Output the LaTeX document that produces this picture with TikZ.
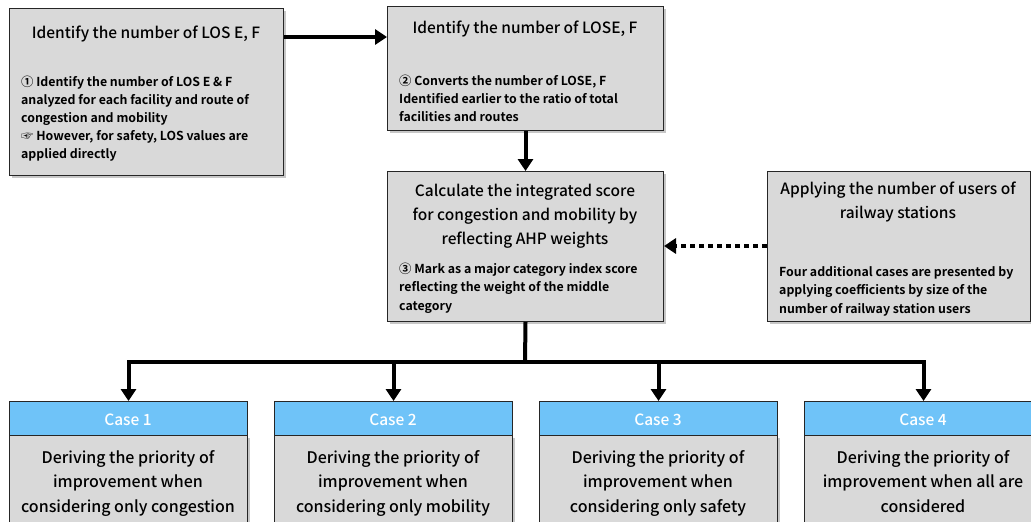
\documentclass[tikz,border=0pt]{standalone}
\usepackage{fontspec}
\setmainfont{Noto Sans CJK KR}[UprightFont=* Medium, BoldFont=* Bold]
\usetikzlibrary{arrows.meta,shadows}
\definecolor{boxgray}{HTML}{D9D9D9}
\definecolor{caseblue}{HTML}{6FC3F8}
\newcommand{\mlt}[4]{\fontsize{#2}{#3}\selectfont\begin{tabular}[t]{@{}#1@{}}#4\end{tabular}}
\begin{document}
\begin{tikzpicture}[x=1pt,y=-1pt,
  box/.style={draw=black!85, line width=1pt, fill=boxgray, anchor=north west, inner sep=0pt,
    drop shadow={shadow xshift=2pt,shadow yshift=-2pt,fill=black,opacity=0.22}},
  casehead/.style={draw=black!85, line width=1pt, fill=caseblue, anchor=north west, inner sep=0pt,
    minimum width=238pt, minimum height=34pt},
  casebody/.style={box, minimum width=238pt, minimum height=100pt},
  ttl/.style={anchor=base, inner sep=0pt},
  bodytxt/.style={anchor=base west, inner sep=0pt},
  arr/.style={line width=4pt, -{Triangle[length=12pt,width=15pt]}},
  dotarr/.style={line width=4.5pt, dash pattern=on 5pt off 4pt, -{Triangle[length=12pt,width=15pt]}},
  trunk/.style={line width=4pt}
]
\useasboundingbox (0,0) rectangle (1031,522);
\clip (0,0) rectangle (1031,522);

% top boxes
\node[box, minimum width=274pt, minimum height=167pt] (b1) at (9,8) {};
\node[box, minimum width=276pt, minimum height=124pt] (b2) at (387,6) {};
\node[box, minimum width=276pt, minimum height=150pt] (b3) at (387,171) {};
\node[box, minimum width=263pt, minimum height=150pt] (b4) at (767,171) {};

% case boxes
\node[casebody] (c1) at (9,435) {};
\node[casebody] (c2) at (274,435) {};
\node[casebody] (c3) at (539,435) {};
\node[casebody] (c4) at (804,435) {};
\node[casehead] (c1h) at (9,401) {};
\node[casehead] (c2h) at (274,401) {};
\node[casehead] (c3h) at (539,401) {};
\node[casehead] (c4h) at (804,401) {};

% texts
\node[ttl, font=\fontsize{15.5}{18}\selectfont] (t1) at (146,38) {Identify the number of LOS E, F};
\node[bodytxt] (d1) at (21,86) {\bfseries\mlt{l}{12.35}{18.2}{%
① Identify the number of LOS E \& F\\
analyzed for each facility and route of\\
congestion and mobility\\
☞ However, for safety, LOS values are\\
applied directly}};

\node[ttl, font=\fontsize{15.5}{18}\selectfont] (t2) at (525,33) {Identify the number of LOSE, F};
\node[bodytxt] (d2) at (399,85) {\bfseries\mlt{l}{12.35}{18.2}{%
② Converts the number of LOSE, F\\
Identified earlier to the ratio of total\\
facilities and routes}};

\node[ttl] (t3) at (525,196) {\mlt{c}{15.5}{24}{%
Calculate the integrated score\\
for congestion and mobility by\\
reflecting AHP weights}};
\node[bodytxt] (d3) at (399,273) {\bfseries\mlt{l}{12.35}{18.6}{%
③ Mark as a major category index score\\
reflecting the weight of the middle\\
category}};

\node[ttl] (t4) at (898,194) {\mlt{c}{15.5}{24}{%
Applying the number of users of\\
railway stations}};
\node[bodytxt] (d4) at (779,276) {\bfseries\mlt{l}{12.35}{18.6}{%
Four additional cases are presented by\\
applying coefficients by size of the\\
number of railway station users}};

\foreach \c/\x in {1/128,2/393,3/658,4/923}{
  \node[ttl, text=white, font=\fontsize{15.5}{18}\selectfont] (h\c) at (\x,425) {Case \c};
}
\node[ttl] (e1) at (128,463) {\mlt{c}{16}{24.5}{Deriving the priority of\\improvement when\\considering only congestion}};
\node[ttl] (e2) at (393,463) {\mlt{c}{16}{24.5}{Deriving the priority of\\improvement when\\considering only mobility}};
\node[ttl] (e3) at (658,463) {\mlt{c}{16}{24.5}{Deriving the priority of\\improvement when\\considering only safety}};
\node[ttl] (e4) at (923,463) {\mlt{c}{16}{24.5}{Deriving the priority of\\improvement when all are\\considered}};

% connectors
\draw[arr] (b1.east |- 0,37) -- (b2.west |- 0,37);
\draw[arr] (b2.south) -- (b3.north);
\draw[dotarr] (b4.west |- 0,246) -- (b3.east |- 0,246);
\coordinate (j) at (525,362);
\draw[trunk] (b3.south) -- (j);
\draw[arr] (j) -| (c1h.north);
\draw[arr] (j) -| (c2h.north);
\draw[arr] (j) -| (c3h.north);
\draw[arr] (j) -| (c4h.north);
\end{tikzpicture}
\end{document}
